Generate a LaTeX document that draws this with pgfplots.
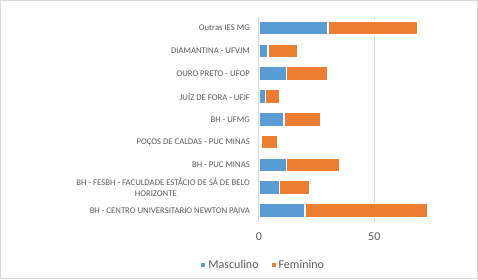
\documentclass[border=0pt]{standalone}
\usepackage{pgfplots}
\pgfplotsset{compat=1.18}
\usepackage{fontspec}
\setmainfont{Carlito}
\definecolor{cblue}{HTML}{5B9BD5}
\definecolor{corange}{HTML}{ED7D31}
\definecolor{ctext}{HTML}{595959}
\definecolor{cgrid}{HTML}{D9D9D9}
\begin{document}
\begin{tikzpicture}
\useasboundingbox (0,0) rectangle (478pt,-279pt);
\draw[cgrid, line width=0.8pt] (0.4pt,-0.4pt) rectangle (477.6pt,-278.6pt);
\begin{axis}[
  at={(258.8pt,-221.9pt)}, anchor=south west,
  scale only axis, width=207.9pt, height=205.2pt,
  xbar stacked, bar width=14pt,
  xmin=0, xmax=90, ymin=-0.5, ymax=8.5,
  enlargelimits=false,
  xtick={0,50}, ytick={0,...,8},
  yticklabels={
    {BH - CENTRO UNIVERSITARIO NEWTON PAIVA},
    {BH - FESBH - FACULDADE ESTÁCIO DE SÁ DE BELO\\HORIZONTE\hspace{73pt}\mbox{}},
    {BH - PUC MINAS},
    {POÇOS DE CALDAS - PUC MINAS},
    {BH - UFMG},
    {JUÍZ DE FORA - UFJF},
    {OURO PRETO - UFOP},
    {DIAMANTINA - UFVJM},
    {Outras IES MG}},
  axis y line*=left, axis x line*=bottom,
  x axis line style={draw=none},
  y axis line style={draw=none},
  xmajorgrids, grid style={cgrid, line width=0.8pt},
  major tick length=0pt,
  tick style={draw=none},
  /pgf/number format/assume math mode=true,
  xticklabel style={font=\fontsize{12}{14}\selectfont, text=ctext, anchor=base, yshift=-18.9pt, inner sep=0pt},
  yticklabel style={font=\fontsize{8.7}{11}\selectfont, text=ctext, anchor=east, inner sep=0pt, xshift=-8.8pt, align=right},
  legend style={at={(0.026,-0.21)}, anchor=center, draw=none, fill=none,
    legend columns=-1, font=\fontsize{12}{14}\selectfont, text=ctext,
    /tikz/every even column/.append style={column sep=10pt},
    nodes={inner xsep=3pt, inner ysep=0pt}},
  legend image code/.code={\fill[#1, draw=none] (0pt,-2pt) rectangle (4pt,2pt);},
]
\addplot[fill=cblue, draw=white, line width=1.5pt] coordinates {(20,0) (9,1) (12,2) (1,3) (11,4) (3,5) (12,6) (4,7) (30,8)};
\addplot[fill=corange, draw=white, line width=1.5pt] coordinates {(53,0) (13,1) (23,2) (7,3) (16,4) (6,5) (18,6) (13,7) (39,8)};
\legend{Masculino, Feminino}
\draw[cgrid, line width=0.8pt] (axis cs:0,-0.5) -- (axis cs:0,8.5);
\end{axis}
\end{tikzpicture}
\end{document}
